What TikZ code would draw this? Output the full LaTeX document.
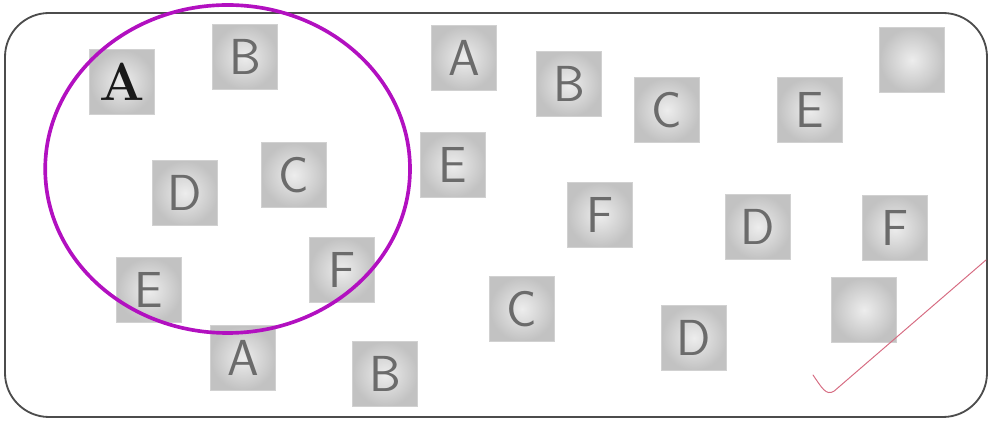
\documentclass[tikz,border=0pt]{standalone}
\usepackage{tikz}

\definecolor{ringcol}{RGB}{178,16,192}
\definecolor{tickcol}{RGB}{214,108,130}

\begin{document}
\begin{tikzpicture}[
        tile/.style={minimum size=1.62cm, inner sep=0pt, draw=black!18,
                shading=radial, inner color=black!7, outer color=black!24,
                text=black!58, font=\fontsize{36}{36}\selectfont\sffamily},
        ring/.style={draw=ringcol, line width=2.6pt},
        tick/.style={draw=tickcol, line width=0.7pt, line cap=round}
    ]
    \useasboundingbox (0,0) rectangle (24.7,10.6);

    % Draw the frame
    \draw[black!70, line width=1.3pt, rounded corners=1.1cm] (0.125,0.175) rectangle (24.675,10.275);

    % Place the letter tiles
    \node[tile, text=black!90, font=\fontsize{38}{38}\selectfont\rmfamily\bfseries] (tA0) at (3.05,8.55) {A};
    \foreach \x/\y/\l/\n in {6.125/9.175/B/tB1, 4.625/5.775/D/tD1, 7.35/6.225/C/tC1,
            3.725/3.35/E/tE1, 8.55/3.85/F/tF1, 6.075/1.65/A/tA1, 9.625/1.25/B/tB2,
            11.6/9.15/A/tA2, 14.225/8.5/B/tB3, 16.675/7.85/C/tC2, 20.25/7.85/E/tE2,
            22.8/9.1/{}/tX1, 11.325/6.475/E/tE3, 15.0/5.225/F/tF2, 18.95/4.925/D/tD2,
            22.375/4.9/F/tF3, 13.05/2.875/C/tC3, 17.35/2.15/D/tD3, 21.6/2.85/{}/tX2} {
            \node[tile] (\n) at (\x,\y) {\l};
        }

    % Draw the ring round the first set
    \draw[ring] (5.69,6.375) ellipse (4.56 and 4.1);

    % Draw the check mark
    \draw[tick] (20.325,1.225) .. controls (20.55,0.9) and (20.65,0.7) .. (20.85,0.82) -- (24.65,4.1);
\end{tikzpicture}
\end{document}
